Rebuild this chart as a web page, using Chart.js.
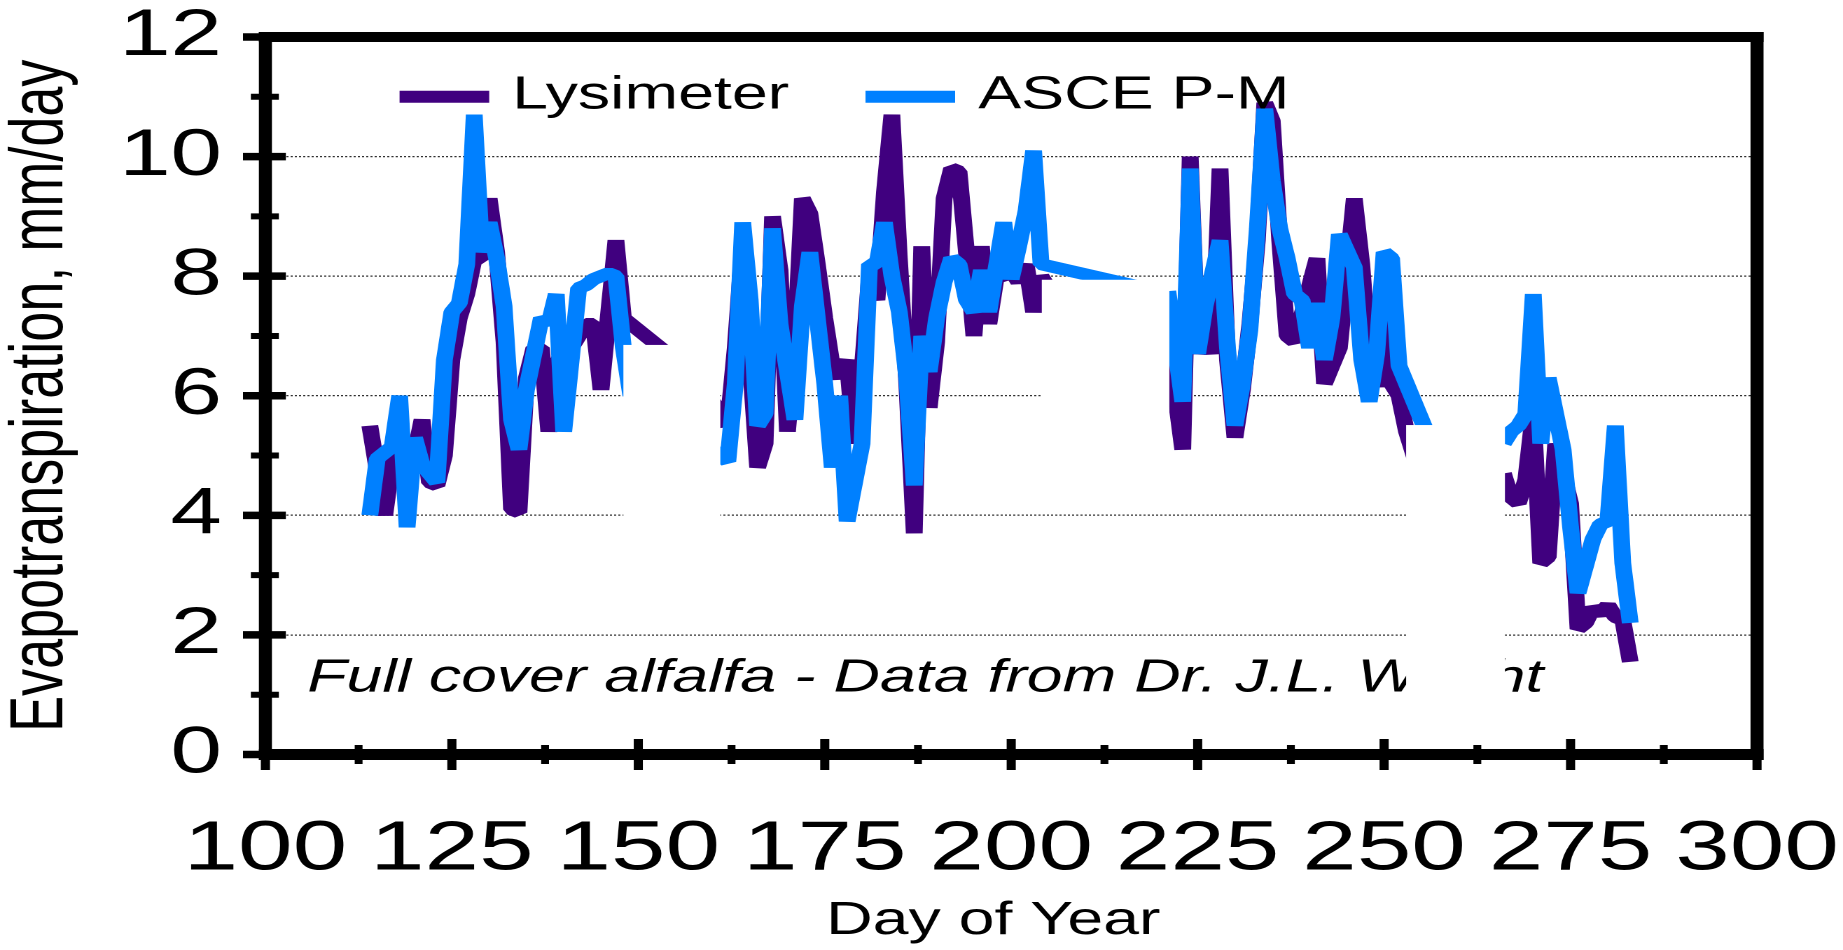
<!DOCTYPE html>
<html>
<head>
<meta charset="utf-8">
<title>Evapotranspiration, mm/day</title>
<script src="https://cdn.jsdelivr.net/npm/chart.js@4.4.1/dist/chart.umd.min.js"></script>
<style>
  html, body { margin: 0; padding: 0; background: #fff; overflow: hidden; }
  #wrap { width: 1843px; height: 950px; position: relative; overflow: hidden; background: #fff; }
  #et { position: absolute; left: 0; top: 0; transform-origin: 0 0; }
</style>
</head>
<body>
<div id="wrap"><canvas id="et" width="1316" height="950"></canvas></div>
<script>
// Axis tick values
const dayTicks = [100, 125, 150, 175, 200, 225, 250, 275, 300];
const etTicks = [0, 2, 4, 6, 8, 10, 12];

// Lysimeter ET, mm/day (null = break between measurement runs)
const lysimeterDays = [
  114, 116, 117, 118, 119, 120, 121, 122, 123, 124, 125, 126, 127, 128, 129, 130, 131, 132, 133, 134,
  135, 136, 137, 138, 139, 140, 141, 142, 143, 144, 145, 147, 148, 156, 157,
  160, 161, 162, 163, 164, 165, 166, 167, 168, 169, 170, 171, 172, 173, 174, 175, 176, 177, 178, 179,
  180, 181, 182, 183, 184, 185, 186, 187, 188, 189, 190, 191, 192, 193, 194, 195, 196, 197, 198, 199,
  200, 201, 202, 203, 204, 205, 212,
  220, 221, 223, 224, 225, 226, 227, 228, 229, 230, 231, 232, 233, 234, 235, 236, 237, 238, 241, 242,
  243, 244, 246, 247, 248, 249, 250, 251, 252, 253, 255, 260,
  266, 267, 268, 269, 270, 271, 272, 273, 275, 276, 277, 278, 279, 280, 281, 282, 283
];
const lysimeterET = [
  5.5, 4.0, 4.9, 5.0, 4.8, 5.0, 5.6, 4.55, 4.5, 5.0, 6.6, 7.3, 7.7, 8.3, 8.3, 9.3, 8.4, 6.9, 4.1, 4.05,
  6.3, 6.8, 6.8, 5.4, 6.5, 6.8, 6.8, 7.0, 7.2, 7.2, 6.1, 8.6, 7.3, 6.5, null,
  5.9, 5.7, 5.5, 6.8, 8.5, 6.6, 4.8, 5.2, 9.0, 8.1, 5.4, 6.8, 9.3, 9.05, 8.2, 7.3, 6.5, 6.3, 6.6, 5.2,
  6.4, 8.0, 7.6, 9.4, 10.7, 8.3, 6.2, 3.7, 8.5, 5.8, 6.9, 9.3, 9.8, 9.75, 8.4, 7.0, 8.5, 7.2, 8.0, 8.0,
  8.1, 7.9, 8.2, 7.4, 8.0, 7.8, null,
  7.3, 7.0, 5.1, 10.0, 6.7, 7.2, 6.7, 9.8, 6.6, 5.3, 6.1, 7.2, 8.6, 10.9, 10.6, 8.6, 7.0, 6.9, 8.3, 6.2,
  6.5, 6.8, 9.3, 8.2, 6.6, 6.15, 7.25, 6.2, 6.0, 5.4, 4.6, null,
  4.7, 4.3, 4.2, 4.6, 5.7, 3.2, 3.3, 5.2, 4.2, 2.1, 2.2, 2.45, 2.35, 2.5, 2.3, 2.25, 1.55
];

// ASCE Penman-Monteith reference ET, mm/day
const ascePmDays = [
  114, 115, 117, 118, 119, 120, 121, 123, 124, 125, 126, 127, 128, 129, 130, 131, 132, 133, 134, 135,
  137, 138, 139, 140, 142, 143, 144, 145, 146, 147, 148, 149, 155,
  160, 161, 162, 163, 164, 165, 166, 167, 168, 169, 170, 171, 172, 173, 174, 175, 176, 177, 178, 180,
  181, 182, 183, 184, 185, 186, 187, 188, 189, 190, 191, 192, 193, 194, 195, 196, 197, 199, 200, 201,
  202, 203, 204, 218, 219,
  221, 223, 224, 225, 226, 228, 229, 230, 231, 232, 233, 234, 235, 236, 237, 238, 239, 240, 241, 242,
  243, 244, 246, 247, 248, 249, 250, 251, 252, 255, 257, 261,
  266, 267, 268, 269, 270, 271, 272, 274, 275, 276, 278, 279, 280, 281, 282, 283
];
const ascePmET = [
  4.0, 4.95, 5.15, 6.0, 3.8, 5.3, 4.85, 4.55, 6.6, 7.4, 7.55, 8.2, 10.7, 8.4, 8.9, 8.3, 7.5, 5.6, 5.1, 6.1,
  7.3, 7.2, 7.7, 5.4, 7.8, 7.85, 7.95, 8.0, 8.05, 8.0, 6.8, 6.0, null,
  5.1, 5.0, 4.9, 6.2, 8.9, 7.6, 5.5, 5.7, 8.8, 7.2, 6.4, 5.6, 7.5, 8.4, 7.3, 6.2, 4.8, 6.0, 3.9, 5.2,
  8.2, 8.2, 8.9, 8.0, 7.4, 6.3, 4.5, 7.0, 6.4, 7.3, 7.9, 8.3, 8.2, 7.6, 7.4, 8.1, 7.4, 8.9, 7.95, 8.5,
  9.1, 10.1, 8.2, 7.8, null,
  7.75, 5.9, 9.8, 6.7, 7.5, 8.6, 6.8, 5.5, 6.2, 7.1, 8.8, 10.8, 9.6, 8.8, 8.3, 7.7, 7.6, 6.8, 7.55, 6.6,
  7.3, 8.7, 8.15, 6.6, 5.9, 6.7, 8.4, 8.3, 6.5, 5.6, 5.0, null,
  5.2, 5.4, 5.5, 5.7, 7.7, 5.2, 6.3, 5.1, 3.8, 2.7, 3.6, 3.85, 3.9, 5.5, 3.2, 2.2
];

// Stretches of the record that are whited out on the plot (day span, ET span)
const blankedSpans = [
  { fromDay: 148.0, toDay: 161.0, low: 3.0, high: 6.85 },
  { fromDay: 204.1, toDay: 221.2, low: 5.0, high: 7.94 },
  { fromDay: 252.95, toDay: 266.2, low: 0.6, high: 5.51 }
];

const noteText = 'Full cover alfalfa - Data from Dr. J.L. Wright';

const FONT = '"Liberation Sans", Arial, Helvetica, sans-serif';
const CANVAS_W = 1316;
const STRETCH = 1843 / CANVAS_W;   // the drawing is widened horizontally

function toPoints(days, values) {
  return days.map((d, i) => ({ x: d, y: values[i] }));
}

// Annotation, white patches, frame, crossing tick marks and the in-plot legend
const chartFrame = {
  id: 'chartFrame',
  beforeDatasetsDraw(chart) {
    const { ctx, scales: { x, y } } = chart;
    ctx.save();
    ctx.font = `italic 46px ${FONT}`;
    ctx.fillStyle = '#000';
    ctx.textAlign = 'left';
    ctx.textBaseline = 'alphabetic';
    ctx.fillText(noteText, x.getPixelForValue(105.6), y.getPixelForValue(1.05));
    ctx.restore();
  },
  afterDatasetsDraw(chart) {
    const { ctx, chartArea: a, scales: { x, y } } = chart;
    ctx.save();

    ctx.fillStyle = '#fff';
    blankedSpans.forEach(s => {
      const x0 = x.getPixelForValue(s.fromDay);
      const x1 = x.getPixelForValue(s.toDay);
      const y0 = y.getPixelForValue(s.high);
      const y1 = y.getPixelForValue(s.low);
      ctx.fillRect(x0, y0, x1 - x0, y1 - y0);
    });

    // heavy frame round the plot
    ctx.fillStyle = '#000';
    const vw = 9.3;
    ctx.fillRect(a.left - vw / 2, a.top - 5, a.right - a.left + vw, 10);
    ctx.fillRect(a.left - vw / 2, a.bottom - 5.5, a.right - a.left + vw, 11);
    ctx.fillRect(a.left - vw / 2, a.top - 5, vw, a.bottom - a.top + 10.5);
    ctx.fillRect(a.right - vw / 2, a.top - 5, vw, a.bottom - a.top + 10.5);

    // tick marks crossing the axes, with minor marks half way
    ctx.strokeStyle = '#000';
    ctx.lineCap = 'butt';
    const seg = (x1, y1, x2, y2, w) => {
      ctx.lineWidth = w;
      ctx.beginPath();
      ctx.moveTo(x1, y1);
      ctx.lineTo(x2, y2);
      ctx.stroke();
    };
    etTicks.forEach((v, i) => {
      const py = y.getPixelForValue(v);
      seg(a.left - 16, py, a.left + 14.6, py, 7.5);
      if (i < etTicks.length - 1) {
        const pm = y.getPixelForValue((v + etTicks[i + 1]) / 2);
        seg(a.left - 10.4, pm, a.left + 9.6, pm, 6);
      }
    });
    dayTicks.forEach((v, i) => {
      const px = x.getPixelForValue(v);
      seg(px, a.bottom - 15.5, px, a.bottom + 15.5, 6.5);
      if (i < dayTicks.length - 1) {
        const pm = x.getPixelForValue((v + dayTicks[i + 1]) / 2);
        seg(pm, a.bottom - 9.5, pm, a.bottom + 9.5, 5.6);
      }
    });

    // legend inside the plot
    const slots = [95.8, 428.5];
    ctx.font = `46px ${FONT}`;
    ctx.textAlign = 'left';
    ctx.textBaseline = 'alphabetic';
    chart.data.datasets.forEach((ds, i) => {
      const x0 = a.left + slots[i];
      ctx.strokeStyle = ds.borderColor;
      seg(x0, a.top + 59.7, x0 + 64, a.top + 59.7, 12);
      ctx.fillStyle = '#000';
      ctx.fillText(ds.label, x0 + 80.5, a.top + 71.3);
    });

    ctx.restore();
  }
};

const canvas = document.getElementById('et');
canvas.style.transform = `scaleX(${STRETCH})`;

new Chart(canvas, {
  type: 'line',
  data: {
    datasets: [
      {
        label: 'Lysimeter',
        data: toPoints(lysimeterDays, lysimeterET),
        borderColor: '#40007f',
        order: 1
      },
      {
        label: 'ASCE P-M',
        data: toPoints(ascePmDays, ascePmET),
        borderColor: '#0080ff',
        order: 0
      }
    ]
  },
  options: {
    responsive: false,
    animation: false,
    devicePixelRatio: 2,
    spanGaps: false,
    layout: { padding: { top: 37, right: 61.4, bottom: 0, left: 0 } },
    elements: {
      line: { borderWidth: 12, tension: 0, fill: false, borderJoinStyle: 'bevel', borderCapStyle: 'butt' },
      point: { radius: 0, hoverRadius: 0 }
    },
    plugins: {
      legend: { display: false },
      tooltip: { enabled: false }
    },
    scales: {
      x: {
        type: 'linear',
        min: dayTicks[0],
        max: dayTicks[dayTicks.length - 1],
        afterBuildTicks: s => { s.ticks = dayTicks.map(v => ({ value: v })); },
        afterFit: s => { s.height = 195.5; s.paddingLeft = 0; s.paddingRight = 0; },
        grid: { display: false, drawTicks: false },
        border: { display: false },
        ticks: {
          padding: 60.5,
          color: '#000',
          autoSkip: false,
          maxRotation: 0,
          font: { family: FONT, size: 70, lineHeight: 1 }
        },
        title: {
          display: true,
          text: 'Day of Year  ',
          color: '#000',
          font: { family: FONT, size: 46, lineHeight: 1.2 },
          padding: { top: 0, bottom: 1 }
        }
      },
      y: {
        type: 'linear',
        min: etTicks[0],
        max: etTicks[etTicks.length - 1],
        afterBuildTicks: s => { s.ticks = etTicks.map(v => ({ value: v })); },
        afterFit: s => { s.width = 189.5; s.paddingTop = 0; s.paddingBottom = 0; },
        grid: { color: '#303030', lineWidth: 1.2, drawTicks: false },
        border: { display: false, dash: [1.5, 1.5] },
        ticks: {
          padding: 31,
          color: '#000',
          font: { family: FONT, size: 66, lineHeight: 1 }
        },
        title: {
          display: true,
          text: 'Evapotranspiration, mm/day',
          color: '#000',
          font: { family: FONT, size: 54, lineHeight: 1.1 },
          padding: 0
        }
      }
    }
  },
  plugins: [chartFrame]
});
</script>
</body>
</html>
